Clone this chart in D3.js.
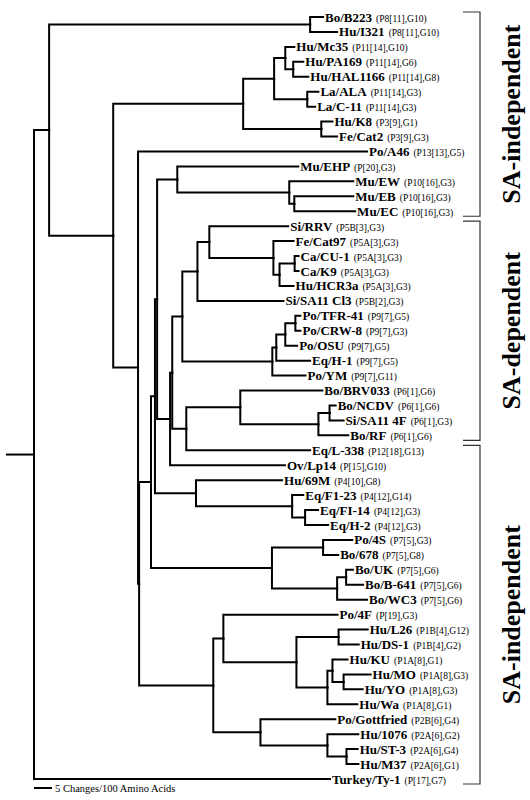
<!DOCTYPE html>
<html><head><meta charset="utf-8">
<script src="https://cdn.jsdelivr.net/npm/d3@7"></script>
<style>body{margin:0;background:#fff}</style>
</head><body>
<svg id="chart" width="530" height="800"></svg>
<script>
// Tree (preorder, top to bottom). Branch lengths in changes/100 amino acids.
const nodeIds = ["root","n0","nA","nB","Bo/B223","Hu/I321","nC","nD","nF","nH","Hu/Mc35","nJ","Hu/PA169","Hu/HAL1166","nI","La/ALA","La/C-11","nG","Hu/K8","Fe/Cat2","nEa","Po/A46","nEb","nPP","nPb","nPa","nK","Mu/EHP","nL","Mu/EW","nM","Mu/EB","Mu/EC","nU2","nU1","nAA","nZ","nY","Si/RRV","nV","Fe/Cat97","nW","nX","Ca/CU-1","Ca/K9","Hu/HCR3a","Si/SA11 Cl3","nAB","nAC","nAD","nAE","Po/TFR-41","Po/CRW-8","Po/OSU","Eq/H-1","Po/YM","nT","nQ","Bo/BRV033","nR","nS","Bo/NCDV","Si/SA11 4F","Bo/RF","Eq/L-338","Ov/Lp14","nHF","Hu/69M","nCH","Eq/F1-23","nCI","Eq/FI-14","Eq/H-2","nCD","nCE","Po/4S","Bo/678","nCF","nCG","Bo/UK","Bo/B-641","Bo/WC3","nBT","nBU","Po/4F","nBW","nBY","Hu/L26","Hu/DS-1","nBZ","nCA","Hu/KU","nCB","Hu/MO","Hu/YO","Hu/Wa","nBV","Po/Gottfried","nBX","Hu/1076","nCC","Hu/ST-3","Hu/M37","Turkey/Ty-1"];
const parentIds = ["","root","n0","nA","nB","nB","nA","nC","nD","nF","nH","nH","nJ","nJ","nF","nI","nI","nD","nG","nG","nC","nEa","nEa","nEb","nPP","nPb","nPa","nK","nK","nL","nL","nM","nM","nPa","nU2","nU1","nAA","nZ","nY","nY","nV","nV","nW","nX","nX","nW","nZ","nAA","nAB","nAC","nAD","nAE","nAE","nAD","nAC","nAB","nU1","nT","nQ","nQ","nR","nS","nS","nR","nT","nU2","nPb","nHF","nHF","nCH","nCH","nCI","nCI","nPP","nCD","nCE","nCE","nCD","nCF","nCG","nCG","nCF","nEb","nBT","nBU","nBU","nBW","nBY","nBY","nBW","nBZ","nCA","nCA","nCB","nCB","nBZ","nBT","nBV","nBV","nBX","nBX","nCC","nCC","n0"];
const branchLengths = [0,7.5,4.2,72.5,3.6,7.5,17.8,36.1,8.6,3.1,2.5,2.2,2.8,4.2,9.2,3.1,2.2,21.7,3.1,4.4,6.9,63.6,0.3,3.3,1.1,0.6,5.6,33.6,31.1,17.8,1.4,16.4,16.9,3.6,0.6,2.8,4.2,3.3,21.9,17.8,5.6,1.7,4.2,1.1,1.1,3.9,23.9,25.0,1.1,2.5,2.8,1.4,1.4,3.3,9.4,9.2,3.9,15.0,22.8,21.7,3.1,1.7,3.9,8.3,34.4,31.9,11.4,23.9,26.7,3.1,3.6,3.6,6.4,33.6,14.2,8.1,4.2,18.1,2.5,1.9,4.7,8.3,20.6,2.8,31.7,20.3,11.7,8.1,5.6,8.6,1.4,4.2,3.1,7.5,5.3,8.3,13.1,20.8,18.6,8.6,5.3,3.1,3.3,82.2];
const genotypes = ["","","","","(P8[11],G10)","(P8[11],G10)","","","","","(P11[14],G10)","","(P11[14],G6)","(P11[14],G8)","","(P11[14],G3)","(P11[14],G3)","","(P3[9],G1)","(P3[9],G3)","","(P13[13],G5)","","","","","","(P[20],G3)","","(P10[16],G3)","","(P10[16],G3)","(P10[16],G3)","","","","","","(P5B[3],G3)","","(P5A[3],G3)","","","(P5A[3],G3)","(P5A[3],G3)","(P5A[3],G3)","(P5B[2],G3)","","","","","(P9[7],G5)","(P9[7],G3)","(P9[7],G5)","(P9[7],G5)","(P9[7],G11)","","","(P6[1],G6)","","","(P6[1],G6)","(P6[1],G3)","(P6[1],G6)","(P12[18],G13)","(P[15],G10)","","(P4[10],G8)","","(P4[12],G14)","","(P4[12],G3)","(P4[12],G3)","","","(P7[5],G3)","(P7[5],G8)","","","(P7[5],G6)","(P7[5],G6)","(P7[5],G6)","","","(P[19],G3)","","","(P1B[4],G12)","(P1B[4],G2)","","","(P1A[8],G1)","","(P1A[8],G3)","(P1A[8],G3)","(P1A[8],G1)","","(P2B[6],G4)","","(P2A[6],G2)","","(P2A[6],G4)","(P2A[6],G1)","(P[17],G7)"];

const groupNames = ["SA-independent","SA-dependent","SA-independent"];
const groupFirst = ["Bo/B223","Si/RRV","Eq/L-338"];
const groupLast = ["Mu/EC","Bo/RF","Turkey/Ty-1"];

const scaleBarUnits = 5;
const scaleBarLabel = "5 Changes/100 Amino Acids";

// ---- build ----
const table = nodeIds.map((id,i)=>({id, parent: parentIds[i] || null, len: branchLengths[i], geno: genotypes[i]}));
const root = d3.stratify().id(d=>d.id).parentId(d=>d.parent)(table);
root.eachBefore(n => { n.dist = n.parent ? n.parent.dist + n.data.len : 0; });

const x = d3.scaleLinear().domain([0, 100]).range([7, 367]);
const leaves = root.leaves();
const y = d3.scalePoint().domain(leaves.map(d=>d.id)).range([17, 779]);
root.eachAfter(n => {
  if (!n.children) n.yy = y(n.id);
  else n.yy = (n.children[0].yy + n.children[n.children.length-1].yy) / 2;
});

const svg = d3.select("#chart");
const serif = "'Liberation Serif','Times New Roman',Times,serif";

svg.append("g").selectAll("path")
  .data(root.descendants().filter(d=>d.parent))
  .join("path")
  .attr("d", d => `M${x(d.parent.dist)},${d.parent.yy}V${d.yy}H${x(d.dist)}`)
  .attr("fill","none").attr("stroke","#000").attr("stroke-width",2)
  .attr("stroke-linecap","square");

const lab = svg.append("g").selectAll("text").data(leaves).join("text")
  .attr("x", d => x(d.dist) + 2)
  .attr("y", d => d.yy + 4.5)
  .attr("font-family", serif);
lab.append("tspan").attr("font-weight","bold").attr("font-size",13).text(d=>d.id);
lab.append("tspan").attr("font-size",9.5).attr("dx",4).text(d=>d.data.geno);

// group brackets
const g = svg.append("g");
groupNames.forEach((name,i)=>{
  const top = y(groupFirst[i]) - 5, bot = y(groupLast[i]) + 5;
  g.append("path").attr("d",`M463,${top}H480V${bot}H463`)
    .attr("fill","none").attr("stroke","#333").attr("stroke-width",1.2);
  const cy = (top+bot)/2;
  g.append("text").attr("transform",`translate(520,${cy}) rotate(-90)`)
    .attr("text-anchor","middle").attr("font-family",serif)
    .attr("font-weight","bold").attr("font-size",26).text(name);
});

// scale bar
svg.append("line").attr("x1",x(0)+27).attr("x2",x(scaleBarUnits)+27)
  .attr("y1",788).attr("y2",788).attr("stroke","#000").attr("stroke-width",2);
svg.append("text").attr("x",x(scaleBarUnits)+30).attr("y",792)
  .attr("font-family",serif).attr("font-size",10.5).text(scaleBarLabel);
</script>
</body></html>
